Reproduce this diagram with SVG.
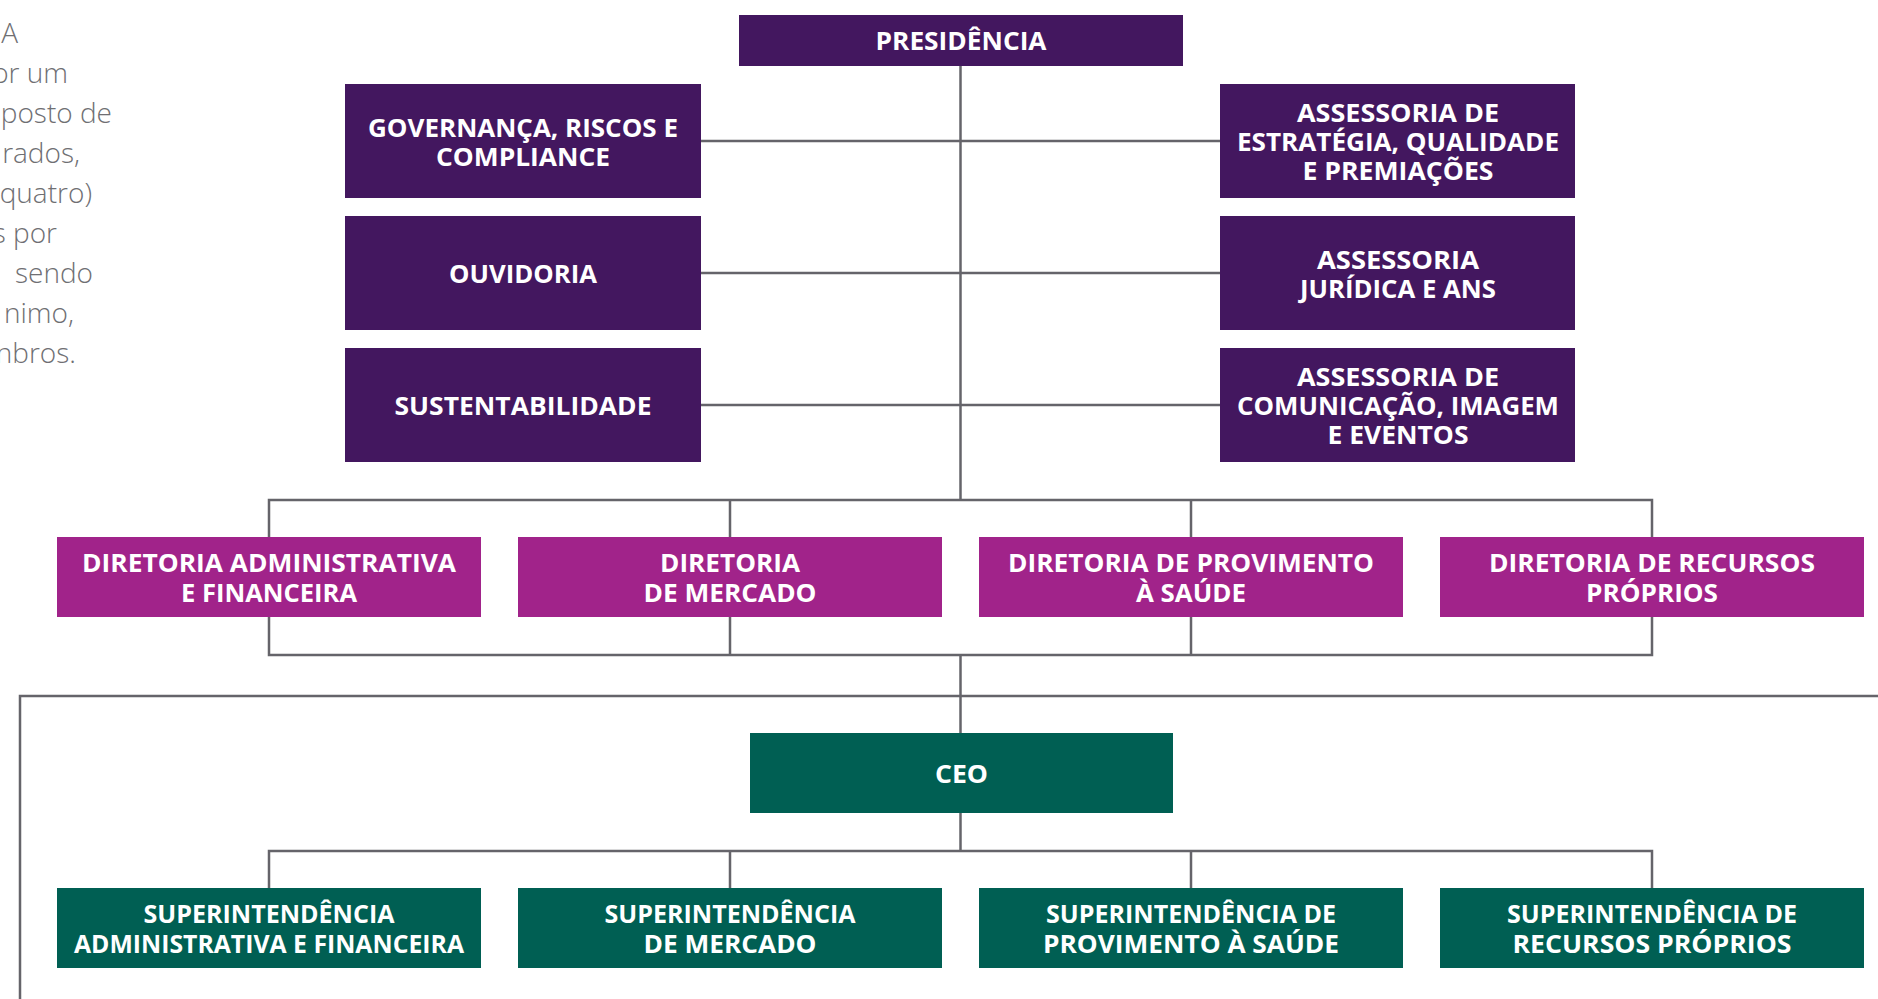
<svg xmlns="http://www.w3.org/2000/svg" width="1878" height="999" viewBox="0 0 1878 999">
<style>
.bg{fill:#ffffff}
.p{fill:#43175f}
.m{fill:#a1238a}
.g{fill:#005f53}
.t{font-family:"Open Sans","Noto Sans","Liberation Sans",sans-serif;font-weight:700;font-size:25px;fill:#ffffff;text-anchor:middle}
.body{font-family:"Open Sans","Lato","Liberation Sans",sans-serif;font-weight:300;font-size:28px;fill:#6f6f73;text-anchor:end}
.c{stroke:#65646a;stroke-width:2.5;fill:none}
</style>
<rect class="bg" x="0" y="0" width="1878" height="999"/>
<g id="body-text">
<text class="body" x="18" y="43">A</text>
<text class="body" x="68" y="83">or um</text>
<text class="body" x="112" y="123">posto de</text>
<text class="body" x="80" y="163">rados,</text>
<text class="body" x="92" y="203">quatro)</text>
<text class="body" x="57" y="243">s por</text>
<text class="body" x="93" y="283">sendo</text>
<text class="body" x="74" y="323">nimo,</text>
<text class="body" x="76" y="363">nbros.</text>
</g>
<g id="connectors">
<path class="c" d="M960.5 66V500"/>
<path class="c" d="M701 141H1220M701 273H1220M701 405H1220"/>
<path class="c" d="M269 537V500H1652V537M730 500V537M1191 500V537"/>
<path class="c" d="M269 617V655H1652V617M730 617V655M1191 617V655"/>
<path class="c" d="M960.5 655V733"/>
<path class="c" d="M20 999V696H1878"/>
<path class="c" d="M960.5 813V851"/>
<path class="c" d="M269 888V851H1652V888M730 851V888M1191 851V888"/>
</g>
<g id="presidencia">
<rect class="p" x="739" y="15" width="444" height="51"/>
<text class="t" x="961" y="50" textLength="171" lengthAdjust="spacingAndGlyphs">PRESIDÊNCIA</text>
</g>
<g id="governanca">
<rect class="p" x="345" y="84" width="356" height="114"/>
<text class="t" x="523" y="136.5" textLength="310" lengthAdjust="spacingAndGlyphs">GOVERNANÇA, RISCOS E</text>
<text class="t" x="523" y="165.5" textLength="174" lengthAdjust="spacingAndGlyphs">COMPLIANCE</text>
</g>
<g id="ouvidoria">
<rect class="p" x="345" y="216" width="356" height="114"/>
<text class="t" x="523" y="282.5" textLength="148" lengthAdjust="spacingAndGlyphs">OUVIDORIA</text>
</g>
<g id="sustentabilidade">
<rect class="p" x="345" y="348" width="356" height="114"/>
<text class="t" x="523" y="414.5" textLength="257" lengthAdjust="spacingAndGlyphs">SUSTENTABILIDADE</text>
</g>
<g id="assessoria-estrategia">
<rect class="p" x="1220" y="84" width="355" height="114"/>
<text class="t" x="1398" y="121.5" textLength="202" lengthAdjust="spacingAndGlyphs">ASSESSORIA DE</text>
<text class="t" x="1398" y="150.5" textLength="322" lengthAdjust="spacingAndGlyphs">ESTRATÉGIA, QUALIDADE</text>
<text class="t" x="1398" y="179.5" textLength="191" lengthAdjust="spacingAndGlyphs">E PREMIAÇÕES</text>
</g>
<g id="assessoria-juridica">
<rect class="p" x="1220" y="216" width="355" height="114"/>
<text class="t" x="1398" y="268.5" textLength="162" lengthAdjust="spacingAndGlyphs">ASSESSORIA</text>
<text class="t" x="1398" y="297.5" textLength="196" lengthAdjust="spacingAndGlyphs">JURÍDICA E ANS</text>
</g>
<g id="assessoria-comunicacao">
<rect class="p" x="1220" y="348" width="355" height="114"/>
<text class="t" x="1398" y="385.5" textLength="202" lengthAdjust="spacingAndGlyphs">ASSESSORIA DE</text>
<text class="t" x="1398" y="414.5" textLength="322" lengthAdjust="spacingAndGlyphs">COMUNICAÇÃO, IMAGEM</text>
<text class="t" x="1398" y="443.5" textLength="141" lengthAdjust="spacingAndGlyphs">E EVENTOS</text>
</g>
<g id="dir-adm">
<rect class="m" x="57" y="537" width="424" height="80"/>
<text class="t" x="269" y="572" textLength="374" lengthAdjust="spacingAndGlyphs">DIRETORIA ADMINISTRATIVA</text>
<text class="t" x="269" y="601.5" textLength="176" lengthAdjust="spacingAndGlyphs">E FINANCEIRA</text>
</g>
<g id="dir-mercado">
<rect class="m" x="518" y="537" width="424" height="80"/>
<text class="t" x="730" y="572" textLength="140" lengthAdjust="spacingAndGlyphs">DIRETORIA</text>
<text class="t" x="730" y="601.5" textLength="173" lengthAdjust="spacingAndGlyphs">DE MERCADO</text>
</g>
<g id="dir-provimento">
<rect class="m" x="979" y="537" width="424" height="80"/>
<text class="t" x="1191" y="572" textLength="366" lengthAdjust="spacingAndGlyphs">DIRETORIA DE PROVIMENTO</text>
<text class="t" x="1191" y="601.5" textLength="110" lengthAdjust="spacingAndGlyphs">À SAÚDE</text>
</g>
<g id="dir-recursos">
<rect class="m" x="1440" y="537" width="424" height="80"/>
<text class="t" x="1652" y="572" textLength="326" lengthAdjust="spacingAndGlyphs">DIRETORIA DE RECURSOS</text>
<text class="t" x="1652" y="601.5" textLength="132" lengthAdjust="spacingAndGlyphs">PRÓPRIOS</text>
</g>
<g id="ceo">
<rect class="g" x="750" y="733" width="423" height="80"/>
<text class="t" x="961.5" y="782.5" textLength="53" lengthAdjust="spacingAndGlyphs">CEO</text>
</g>
<g id="sup-adm">
<rect class="g" x="57" y="888" width="424" height="80"/>
<text class="t" x="269" y="923" textLength="251" lengthAdjust="spacingAndGlyphs">SUPERINTENDÊNCIA</text>
<text class="t" x="269" y="952.5" textLength="390" lengthAdjust="spacingAndGlyphs">ADMINISTRATIVA E FINANCEIRA</text>
</g>
<g id="sup-mercado">
<rect class="g" x="518" y="888" width="424" height="80"/>
<text class="t" x="730" y="923" textLength="251" lengthAdjust="spacingAndGlyphs">SUPERINTENDÊNCIA</text>
<text class="t" x="730" y="952.5" textLength="173" lengthAdjust="spacingAndGlyphs">DE MERCADO</text>
</g>
<g id="sup-provimento">
<rect class="g" x="979" y="888" width="424" height="80"/>
<text class="t" x="1191" y="923" textLength="290" lengthAdjust="spacingAndGlyphs">SUPERINTENDÊNCIA DE</text>
<text class="t" x="1191" y="952.5" textLength="296" lengthAdjust="spacingAndGlyphs">PROVIMENTO À SAÚDE</text>
</g>
<g id="sup-recursos">
<rect class="g" x="1440" y="888" width="424" height="80"/>
<text class="t" x="1652" y="923" textLength="290" lengthAdjust="spacingAndGlyphs">SUPERINTENDÊNCIA DE</text>
<text class="t" x="1652" y="952.5" textLength="279" lengthAdjust="spacingAndGlyphs">RECURSOS PRÓPRIOS</text>
</g>
</svg>
